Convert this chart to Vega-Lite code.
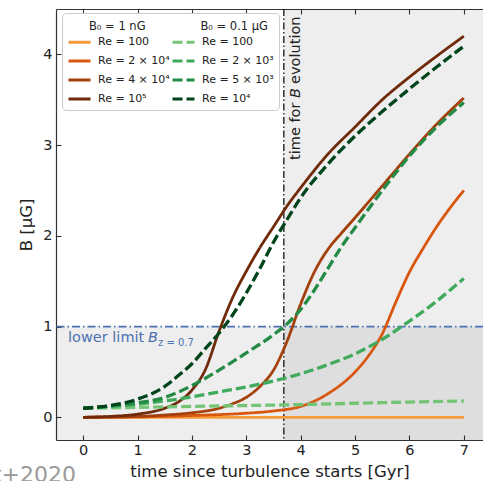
{
  "$schema": "https://vega.github.io/schema/vega-lite/v6.json",
  "width": 427,
  "height": 431,
  "autosize": {"type": "none"},
  "padding": {"left": 56, "top": 9, "right": 0, "bottom": 41},
  "config": {
    "font": "DejaVu Sans",
    "view": {"stroke": null},
    "axis": {"grid": false, "domainColor": "#333", "tickColor": "#333", "labelColor": "#222", "titleColor": "#222", "domainWidth": 1.2, "tickWidth": 1.1}
  },
  "datasets": {
    "curves": [
      {"b0": "nG", "series": "1 nG|Re = 100", "t": 0, "B": 0},
      {"b0": "nG", "series": "1 nG|Re = 100", "t": 1, "B": 0},
      {"b0": "nG", "series": "1 nG|Re = 100", "t": 2, "B": 0},
      {"b0": "nG", "series": "1 nG|Re = 100", "t": 3, "B": 0},
      {"b0": "nG", "series": "1 nG|Re = 100", "t": 4, "B": 0},
      {"b0": "nG", "series": "1 nG|Re = 100", "t": 5, "B": 0},
      {"b0": "nG", "series": "1 nG|Re = 100", "t": 6, "B": 0},
      {"b0": "nG", "series": "1 nG|Re = 100", "t": 7, "B": 0},

      {"b0": "nG", "series": "1 nG|Re = 2 × 10⁴", "t": 0, "B": 0},
      {"b0": "nG", "series": "1 nG|Re = 2 × 10⁴", "t": 1, "B": 0.005},
      {"b0": "nG", "series": "1 nG|Re = 2 × 10⁴", "t": 2, "B": 0.02},
      {"b0": "nG", "series": "1 nG|Re = 2 × 10⁴", "t": 3, "B": 0.045},
      {"b0": "nG", "series": "1 nG|Re = 2 × 10⁴", "t": 3.5, "B": 0.07},
      {"b0": "nG", "series": "1 nG|Re = 2 × 10⁴", "t": 4, "B": 0.12},
      {"b0": "nG", "series": "1 nG|Re = 2 × 10⁴", "t": 4.5, "B": 0.26},
      {"b0": "nG", "series": "1 nG|Re = 2 × 10⁴", "t": 5, "B": 0.5},
      {"b0": "nG", "series": "1 nG|Re = 2 × 10⁴", "t": 5.25, "B": 0.68},
      {"b0": "nG", "series": "1 nG|Re = 2 × 10⁴", "t": 5.5, "B": 0.92},
      {"b0": "nG", "series": "1 nG|Re = 2 × 10⁴", "t": 5.75, "B": 1.27},
      {"b0": "nG", "series": "1 nG|Re = 2 × 10⁴", "t": 6, "B": 1.6},
      {"b0": "nG", "series": "1 nG|Re = 2 × 10⁴", "t": 6.25, "B": 1.86},
      {"b0": "nG", "series": "1 nG|Re = 2 × 10⁴", "t": 6.5, "B": 2.1},
      {"b0": "nG", "series": "1 nG|Re = 2 × 10⁴", "t": 6.75, "B": 2.31},
      {"b0": "nG", "series": "1 nG|Re = 2 × 10⁴", "t": 7, "B": 2.5},

      {"b0": "nG", "series": "1 nG|Re = 4 × 10⁴", "t": 0, "B": 0},
      {"b0": "nG", "series": "1 nG|Re = 4 × 10⁴", "t": 1, "B": 0.01},
      {"b0": "nG", "series": "1 nG|Re = 4 × 10⁴", "t": 1.5, "B": 0.025},
      {"b0": "nG", "series": "1 nG|Re = 4 × 10⁴", "t": 2, "B": 0.05},
      {"b0": "nG", "series": "1 nG|Re = 4 × 10⁴", "t": 2.5, "B": 0.1},
      {"b0": "nG", "series": "1 nG|Re = 4 × 10⁴", "t": 2.75, "B": 0.15},
      {"b0": "nG", "series": "1 nG|Re = 4 × 10⁴", "t": 3, "B": 0.22},
      {"b0": "nG", "series": "1 nG|Re = 4 × 10⁴", "t": 3.25, "B": 0.34},
      {"b0": "nG", "series": "1 nG|Re = 4 × 10⁴", "t": 3.5, "B": 0.52},
      {"b0": "nG", "series": "1 nG|Re = 4 × 10⁴", "t": 3.75, "B": 0.84},
      {"b0": "nG", "series": "1 nG|Re = 4 × 10⁴", "t": 4, "B": 1.25},
      {"b0": "nG", "series": "1 nG|Re = 4 × 10⁴", "t": 4.25, "B": 1.6},
      {"b0": "nG", "series": "1 nG|Re = 4 × 10⁴", "t": 4.5, "B": 1.85},
      {"b0": "nG", "series": "1 nG|Re = 4 × 10⁴", "t": 4.75, "B": 2.03},
      {"b0": "nG", "series": "1 nG|Re = 4 × 10⁴", "t": 5, "B": 2.2},
      {"b0": "nG", "series": "1 nG|Re = 4 × 10⁴", "t": 5.5, "B": 2.55},
      {"b0": "nG", "series": "1 nG|Re = 4 × 10⁴", "t": 6, "B": 2.9},
      {"b0": "nG", "series": "1 nG|Re = 4 × 10⁴", "t": 6.5, "B": 3.23},
      {"b0": "nG", "series": "1 nG|Re = 4 × 10⁴", "t": 7, "B": 3.52},

      {"b0": "nG", "series": "1 nG|Re = 10⁵", "t": 0, "B": 0},
      {"b0": "nG", "series": "1 nG|Re = 10⁵", "t": 0.5, "B": 0.01},
      {"b0": "nG", "series": "1 nG|Re = 10⁵", "t": 1, "B": 0.035},
      {"b0": "nG", "series": "1 nG|Re = 10⁵", "t": 1.5, "B": 0.1},
      {"b0": "nG", "series": "1 nG|Re = 10⁵", "t": 1.75, "B": 0.17},
      {"b0": "nG", "series": "1 nG|Re = 10⁵", "t": 2, "B": 0.3},
      {"b0": "nG", "series": "1 nG|Re = 10⁵", "t": 2.25, "B": 0.53},
      {"b0": "nG", "series": "1 nG|Re = 10⁵", "t": 2.5, "B": 0.95},
      {"b0": "nG", "series": "1 nG|Re = 10⁵", "t": 2.75, "B": 1.32},
      {"b0": "nG", "series": "1 nG|Re = 10⁵", "t": 3, "B": 1.61},
      {"b0": "nG", "series": "1 nG|Re = 10⁵", "t": 3.25, "B": 1.87},
      {"b0": "nG", "series": "1 nG|Re = 10⁵", "t": 3.5, "B": 2.1},
      {"b0": "nG", "series": "1 nG|Re = 10⁵", "t": 3.75, "B": 2.33},
      {"b0": "nG", "series": "1 nG|Re = 10⁵", "t": 4, "B": 2.53},
      {"b0": "nG", "series": "1 nG|Re = 10⁵", "t": 4.5, "B": 2.9},
      {"b0": "nG", "series": "1 nG|Re = 10⁵", "t": 5, "B": 3.2},
      {"b0": "nG", "series": "1 nG|Re = 10⁵", "t": 5.5, "B": 3.5},
      {"b0": "nG", "series": "1 nG|Re = 10⁵", "t": 6, "B": 3.75},
      {"b0": "nG", "series": "1 nG|Re = 10⁵", "t": 6.5, "B": 3.98},
      {"b0": "nG", "series": "1 nG|Re = 10⁵", "t": 7, "B": 4.2},

      {"b0": "uG", "series": "0.1 μG|Re = 100", "t": 0, "B": 0.1},
      {"b0": "uG", "series": "0.1 μG|Re = 100", "t": 1, "B": 0.11},
      {"b0": "uG", "series": "0.1 μG|Re = 100", "t": 2, "B": 0.12},
      {"b0": "uG", "series": "0.1 μG|Re = 100", "t": 3, "B": 0.13},
      {"b0": "uG", "series": "0.1 μG|Re = 100", "t": 4, "B": 0.14},
      {"b0": "uG", "series": "0.1 μG|Re = 100", "t": 5, "B": 0.155},
      {"b0": "uG", "series": "0.1 μG|Re = 100", "t": 6, "B": 0.168},
      {"b0": "uG", "series": "0.1 μG|Re = 100", "t": 7, "B": 0.18},

      {"b0": "uG", "series": "0.1 μG|Re = 2 × 10³", "t": 0, "B": 0.1},
      {"b0": "uG", "series": "0.1 μG|Re = 2 × 10³", "t": 0.5, "B": 0.12},
      {"b0": "uG", "series": "0.1 μG|Re = 2 × 10³", "t": 1, "B": 0.145},
      {"b0": "uG", "series": "0.1 μG|Re = 2 × 10³", "t": 1.5, "B": 0.18},
      {"b0": "uG", "series": "0.1 μG|Re = 2 × 10³", "t": 2, "B": 0.225},
      {"b0": "uG", "series": "0.1 μG|Re = 2 × 10³", "t": 2.5, "B": 0.28},
      {"b0": "uG", "series": "0.1 μG|Re = 2 × 10³", "t": 3, "B": 0.335},
      {"b0": "uG", "series": "0.1 μG|Re = 2 × 10³", "t": 3.5, "B": 0.4},
      {"b0": "uG", "series": "0.1 μG|Re = 2 × 10³", "t": 4, "B": 0.48},
      {"b0": "uG", "series": "0.1 μG|Re = 2 × 10³", "t": 4.5, "B": 0.58},
      {"b0": "uG", "series": "0.1 μG|Re = 2 × 10³", "t": 5, "B": 0.7},
      {"b0": "uG", "series": "0.1 μG|Re = 2 × 10³", "t": 5.5, "B": 0.86},
      {"b0": "uG", "series": "0.1 μG|Re = 2 × 10³", "t": 6, "B": 1.06},
      {"b0": "uG", "series": "0.1 μG|Re = 2 × 10³", "t": 6.5, "B": 1.28},
      {"b0": "uG", "series": "0.1 μG|Re = 2 × 10³", "t": 7, "B": 1.53},

      {"b0": "uG", "series": "0.1 μG|Re = 5 × 10³", "t": 0, "B": 0.1},
      {"b0": "uG", "series": "0.1 μG|Re = 5 × 10³", "t": 0.5, "B": 0.125},
      {"b0": "uG", "series": "0.1 μG|Re = 5 × 10³", "t": 1, "B": 0.16},
      {"b0": "uG", "series": "0.1 μG|Re = 5 × 10³", "t": 1.5, "B": 0.22},
      {"b0": "uG", "series": "0.1 μG|Re = 5 × 10³", "t": 2, "B": 0.35},
      {"b0": "uG", "series": "0.1 μG|Re = 5 × 10³", "t": 2.5, "B": 0.52},
      {"b0": "uG", "series": "0.1 μG|Re = 5 × 10³", "t": 3, "B": 0.71},
      {"b0": "uG", "series": "0.1 μG|Re = 5 × 10³", "t": 3.5, "B": 0.91},
      {"b0": "uG", "series": "0.1 μG|Re = 5 × 10³", "t": 3.75, "B": 1.03},
      {"b0": "uG", "series": "0.1 μG|Re = 5 × 10³", "t": 4, "B": 1.19},
      {"b0": "uG", "series": "0.1 μG|Re = 5 × 10³", "t": 4.25, "B": 1.4},
      {"b0": "uG", "series": "0.1 μG|Re = 5 × 10³", "t": 4.5, "B": 1.64},
      {"b0": "uG", "series": "0.1 μG|Re = 5 × 10³", "t": 4.75, "B": 1.88},
      {"b0": "uG", "series": "0.1 μG|Re = 5 × 10³", "t": 5, "B": 2.09},
      {"b0": "uG", "series": "0.1 μG|Re = 5 × 10³", "t": 5.5, "B": 2.5},
      {"b0": "uG", "series": "0.1 μG|Re = 5 × 10³", "t": 6, "B": 2.88},
      {"b0": "uG", "series": "0.1 μG|Re = 5 × 10³", "t": 6.5, "B": 3.2},
      {"b0": "uG", "series": "0.1 μG|Re = 5 × 10³", "t": 7, "B": 3.47},

      {"b0": "uG", "series": "0.1 μG|Re = 10⁴", "t": 0, "B": 0.1},
      {"b0": "uG", "series": "0.1 μG|Re = 10⁴", "t": 0.5, "B": 0.13},
      {"b0": "uG", "series": "0.1 μG|Re = 10⁴", "t": 1, "B": 0.2},
      {"b0": "uG", "series": "0.1 μG|Re = 10⁴", "t": 1.5, "B": 0.34},
      {"b0": "uG", "series": "0.1 μG|Re = 10⁴", "t": 1.75, "B": 0.46},
      {"b0": "uG", "series": "0.1 μG|Re = 10⁴", "t": 2, "B": 0.59},
      {"b0": "uG", "series": "0.1 μG|Re = 10⁴", "t": 2.25, "B": 0.76},
      {"b0": "uG", "series": "0.1 μG|Re = 10⁴", "t": 2.5, "B": 0.93},
      {"b0": "uG", "series": "0.1 μG|Re = 10⁴", "t": 2.75, "B": 1.13},
      {"b0": "uG", "series": "0.1 μG|Re = 10⁴", "t": 3, "B": 1.37},
      {"b0": "uG", "series": "0.1 μG|Re = 10⁴", "t": 3.25, "B": 1.64},
      {"b0": "uG", "series": "0.1 μG|Re = 10⁴", "t": 3.5, "B": 1.93},
      {"b0": "uG", "series": "0.1 μG|Re = 10⁴", "t": 3.75, "B": 2.18},
      {"b0": "uG", "series": "0.1 μG|Re = 10⁴", "t": 4, "B": 2.42},
      {"b0": "uG", "series": "0.1 μG|Re = 10⁴", "t": 4.5, "B": 2.79},
      {"b0": "uG", "series": "0.1 μG|Re = 10⁴", "t": 5, "B": 3.1},
      {"b0": "uG", "series": "0.1 μG|Re = 10⁴", "t": 5.5, "B": 3.37},
      {"b0": "uG", "series": "0.1 μG|Re = 10⁴", "t": 6, "B": 3.62},
      {"b0": "uG", "series": "0.1 μG|Re = 10⁴", "t": 6.5, "B": 3.86},
      {"b0": "uG", "series": "0.1 μG|Re = 10⁴", "t": 7, "B": 4.09}
    ]
  },
  "resolve": {"axis": {"x": "independent"}},
  "layer": [
    {
      "data": {"values": [{}]},
      "mark": {"type": "rect", "color": "#000", "opacity": 0.065, "clip": true},
      "encoding": {
        "x": {"datum": 3.69, "type": "quantitative", "scale": {"domain": [-0.5, 7.353], "nice": false, "zero": false},
              "axis": {"orient": "top", "labels": false, "title": null, "tickSize": -5, "values": [0, 1, 2, 3, 4, 5, 6, 7]}},
        "x2": {"datum": 7.6},
        "y": {"datum": -0.3, "type": "quantitative", "scale": {"domain": [-0.25, 4.5], "nice": false, "zero": false}},
        "y2": {"datum": 4.6}
      }
    },
    {
      "data": {"values": [{}]},
      "mark": {"type": "rect", "color": "#000", "opacity": 0.065, "clip": true},
      "encoding": {
        "x": {"datum": -0.6, "type": "quantitative", "axis": null},
        "x2": {"datum": 7.6},
        "y": {"datum": -0.3, "type": "quantitative"},
        "y2": {"datum": 1}
      }
    },
    {
      "data": {"values": [{}]},
      "mark": {"type": "rule", "color": "#4c72b0", "strokeDash": [8, 3, 1.5, 3], "strokeWidth": 1.6},
      "encoding": {"y": {"datum": 1, "type": "quantitative"}}
    },
    {
      "data": {"values": [{}]},
      "mark": {"type": "rule", "color": "#111", "strokeDash": [7, 2.5, 1.5, 2.5], "strokeWidth": 1.3},
      "encoding": {"x": {"datum": 3.69, "type": "quantitative", "axis": null}}
    },
    {
      "data": {"name": "curves"},
      "transform": [{"filter": "datum.b0 == 'nG'"}],
      "mark": {"type": "line", "strokeWidth": 2.8, "interpolate": "monotone"},
      "encoding": {
        "x": {"field": "t", "type": "quantitative",
              "axis": {"orient": "bottom", "title": "time since turbulence starts [Gyr]", "values": [0, 1, 2, 3, 4, 5, 6, 7], "tickSize": -5, "labelPadding": 8, "labelFontSize": 14.5, "titleFontSize": 16.5, "titleFontWeight": "normal", "titlePadding": 7, "labelFlush": false}},
        "y": {"field": "B", "type": "quantitative",
              "axis": {"title": "B [μG]", "values": [0, 1, 2, 3, 4], "format": "d", "tickSize": -5, "labelPadding": 9, "labelFontSize": 14.5, "titleFontSize": 16.5, "titleFontWeight": "normal", "titlePadding": 8, "labelFlush": false}},
        "color": {"field": "series", "type": "nominal",
                  "scale": {"domain": ["1 nG|Re = 100", "1 nG|Re = 2 × 10⁴", "1 nG|Re = 4 × 10⁴", "1 nG|Re = 10⁵", "0.1 μG|Re = 100", "0.1 μG|Re = 2 × 10³", "0.1 μG|Re = 5 × 10³", "0.1 μG|Re = 10⁴"],
                            "range": ["#f69a3c", "#d9560f", "#a3400c", "#702a0a", "#74c476", "#41ab5d", "#238b45", "#00441b"]},
                  "legend": {"title": "\u200b\u00a0\u00a0\u00a0\u00a0\u00a0\u00a0B₀ = 1 nG\u00a0\u00a0\u00a0\u00a0\u00a0\u00a0\u00a0\u00a0\u00a0\u00a0\u00a0\u00a0\u00a0\u00a0\u00a0B₀ = 0.1 μG",
                             "orient": "none", "legendX": 6, "legendY": 4, "columns": 2,
                             "titleFontSize": 11.5, "titleFontWeight": "normal", "titleColor": "#222", "titleAnchor": "start", "titleLimit": 400,
                             "titleBaseline": "line-top", "titleLineHeight": 17, "titlePadding": 0,
                             "labelFontSize": 11, "labelColor": "#222", "labelExpr": "split(datum.label, '|')[1]",
                             "symbolType": "stroke", "symbolSize": 484, "symbolStrokeWidth": 3, "labelOffset": 6,
                             "rowPadding": 0, "columnPadding": -4, "padding": 5,
                             "fillColor": "white", "strokeColor": "#ccc", "cornerRadius": 4}},
        "strokeDash": {"field": "series", "type": "nominal",
                       "scale": {"domain": ["1 nG|Re = 100", "1 nG|Re = 2 × 10⁴", "1 nG|Re = 4 × 10⁴", "1 nG|Re = 10⁵", "0.1 μG|Re = 100", "0.1 μG|Re = 2 × 10³", "0.1 μG|Re = 5 × 10³", "0.1 μG|Re = 10⁴"],
                                 "range": [[1, 0], [1, 0], [1, 0], [1, 0], [10, 4], [10, 4], [10, 4], [10, 4]]},
                       "legend": {"title": "\u200b\u00a0\u00a0\u00a0\u00a0\u00a0\u00a0B₀ = 1 nG\u00a0\u00a0\u00a0\u00a0\u00a0\u00a0\u00a0\u00a0\u00a0\u00a0\u00a0\u00a0\u00a0\u00a0\u00a0B₀ = 0.1 μG"}}
      }
    },
    {
      "data": {"name": "curves"},
      "transform": [{"filter": "datum.b0 == 'uG'"}],
      "mark": {"type": "line", "strokeWidth": 3.3, "interpolate": "monotone"},
      "encoding": {
        "x": {"field": "t", "type": "quantitative", "axis": null},
        "y": {"field": "B", "type": "quantitative"},
        "color": {"field": "series", "type": "nominal"},
        "strokeDash": {"field": "series", "type": "nominal"}
      }
    },
    {
      "data": {"values": [{}]},
      "mark": {"type": "text", "text": "lower limit", "align": "left", "baseline": "middle", "fontSize": 14.5, "color": "#4c72b0"},
      "encoding": {"x": {"datum": -0.278, "type": "quantitative", "axis": null}, "y": {"datum": 0.87, "type": "quantitative"}}
    },
    {
      "data": {"values": [{}]},
      "mark": {"type": "text", "text": "B", "align": "left", "baseline": "middle", "fontSize": 14.5, "fontStyle": "italic", "color": "#4c72b0", "dx": 80},
      "encoding": {"x": {"datum": -0.278, "type": "quantitative", "axis": null}, "y": {"datum": 0.87, "type": "quantitative"}}
    },
    {
      "data": {"values": [{}]},
      "mark": {"type": "text", "text": "z = 0.7", "align": "left", "baseline": "middle", "fontSize": 10, "color": "#4c72b0", "dx": 90, "dy": 5},
      "encoding": {"x": {"datum": -0.278, "type": "quantitative", "axis": null}, "y": {"datum": 0.87, "type": "quantitative"}}
    },
    {
      "data": {"values": [{}]},
      "mark": {"type": "text", "text": "time for", "align": "left", "baseline": "middle", "fontSize": 14.5, "angle": 270, "color": "#222"},
      "encoding": {"x": {"datum": 3.91, "type": "quantitative", "axis": null}, "y": {"datum": 2.837, "type": "quantitative"}}
    },
    {
      "data": {"values": [{}]},
      "mark": {"type": "text", "text": "B", "align": "left", "baseline": "middle", "fontSize": 14.5, "angle": 270, "fontStyle": "italic", "color": "#222", "dx": 62},
      "encoding": {"x": {"datum": 3.91, "type": "quantitative", "axis": null}, "y": {"datum": 2.837, "type": "quantitative"}}
    },
    {
      "data": {"values": [{}]},
      "mark": {"type": "text", "text": "evolution", "align": "left", "baseline": "middle", "fontSize": 14.5, "angle": 270, "color": "#222", "dx": 76},
      "encoding": {"x": {"datum": 3.91, "type": "quantitative", "axis": null}, "y": {"datum": 2.837, "type": "quantitative"}}
    },
    {
      "data": {"values": [{}]},
      "mark": {"type": "text", "text": "t+2020", "align": "right", "baseline": "alphabetic", "fontSize": 22, "color": "#9a9a9a"},
      "encoding": {"x": {"datum": -0.132, "type": "quantitative", "axis": null}, "y": {"datum": -0.715, "type": "quantitative"}}
    }
  ]
}
